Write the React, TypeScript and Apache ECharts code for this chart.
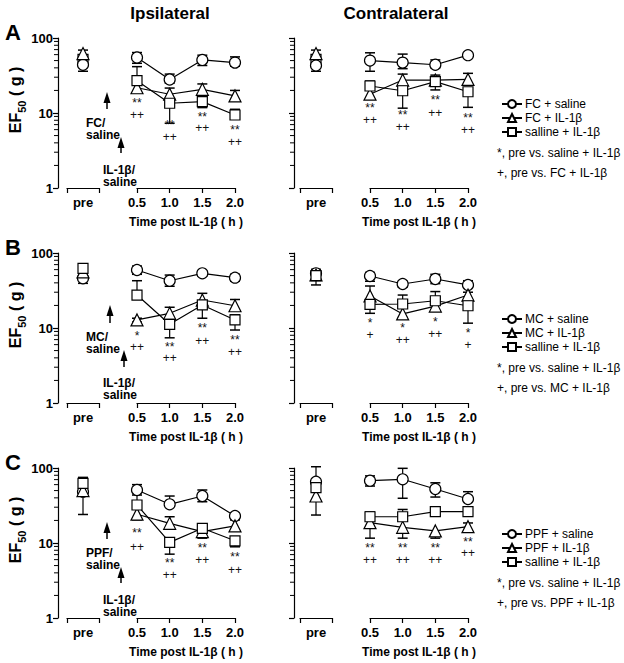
import React, { useEffect, useRef } from 'react';
import * as echarts from 'echarts';

const FONT = '"Liberation Sans", Arial, Helvetica, sans-serif';

const PRE_LABEL = ['pre'];
const TIMES = [0.5, 1.0, 1.5, 2.0];
const MINOR_TICKS = [2, 3, 4, 5, 6, 7, 8, 9, 20, 30, 40, 50, 60, 70, 80, 90];
const X_TITLE = 'Time post IL-1β ( h )';
const Y_TITLE = '{a|EF}{b|50}{a| ( g )}';
const HEADERS = ['Ipsilateral', 'Contralateral'];
const PANEL_LETTERS = ['A', 'B', 'C'];

// Each row: [mean, lower end of error bar, upper end of error bar]
// order: pre, 0.5 h, 1.0 h, 1.5 h, 2.0 h
const A_IPSI_SAL = [[44, 36, 44], [55, 46, 64], [28, 25, 33], [51, 43, 59], [47, 42, 56]];
const A_IPSI_DRUG = [[62, 62, 69], [21.7, 18.6, 21.7], [17.8, 17.8, 21.5], [20.7, 20.7, 24.4], [16.9, 14.5, 20]];
const A_IPSI_IL = [[52, 52, 52], [27, 27, 41.5], [13.5, 7.3, 13.5], [14.2, 11.8, 14.2], [9.4, 8.5, 11.2]];

const A_CON_SAL = [[43, 36, 43], [50, 36, 63.5], [47, 39, 61], [44, 40, 51], [59, 55, 63]];
const A_CON_DRUG = [[62, 62, 69], [17.8, 17.8, 17.8], [27.5, 27.5, 33], [27.5, 27.5, 27.5], [28, 28, 33.8]];
const A_CON_IL = [[52, 52, 52], [22.9, 22.9, 26.7], [19.8, 11.6, 19.8], [26.2, 20.3, 32], [19.2, 11.9, 19.2]];

const B_IPSI_SAL = [[46, 39.4, 46], [59.3, 52, 67], [42.7, 36, 50.8], [53.6, 49, 58], [46.9, 42, 52]];
const B_IPSI_DRUG = [[56, 56, 56], [12.8, 12, 13.5], [15.7, 15.7, 18.9], [23.6, 23.6, 29], [19.8, 19.8, 24]];
const B_IPSI_IL = [[62.5, 62.5, 70.6], [27.5, 27.5, 42.7], [11.2, 7.4, 11.2], [20.3, 13.5, 20.3], [12.8, 9.4, 15]];

const B_CON_SAL = [[53.6, 53.6, 60.6], [49.3, 42, 55], [38.6, 35, 42], [45, 39, 52], [37.5, 37.5, 42.7]];
const B_CON_DRUG = [[50.9, 37.5, 50.9], [26.7, 26.7, 36.3], [15.4, 13.8, 15.4], [19.6, 17, 19.6], [27.5, 27.5, 30]];
const B_CON_IL = [[50, 50, 50], [20.7, 15.7, 20.7], [20.9, 20.9, 27.5], [23.1, 23.1, 30.6], [19.8, 11.6, 19.8]];

const C_IPSI_SAL = [[48.3, 24, 48.3], [50.9, 50.9, 60], [32.8, 32.8, 42.3], [42.3, 35.5, 50.9], [22.9, 21, 25]];
const C_IPSI_DRUG = [[50, 50, 50], [24.2, 20.3, 24.2], [18.3, 18.3, 22.4], [14.2, 11.6, 14.2], [16.9, 16.9, 20.3]];
const C_IPSI_IL = [[62.5, 62.5, 75], [32.1, 32.1, 43.6], [10.2, 7.1, 10.2], [15.7, 15.7, 17.4], [10.7, 8.9, 10.7]];

const C_CON_SAL = [[65.7, 65.7, 104], [67.7, 57.5, 78.5], [70.7, 39.5, 99], [52.5, 41, 63.5], [38.6, 38.6, 48.3]];
const C_CON_DRUG = [[42.3, 23.6, 42.3], [18.7, 11.6, 18.7], [16.2, 11.6, 16.2], [14.5, 11.6, 14.5], [16.5, 14.5, 18.5]];
const C_CON_IL = [[54.7, 54.7, 54.7], [22.4, 22.4, 26.1], [22.4, 22.4, 28], [26.2, 23, 28], [26.2, 26.2, 30.4]];

// significance marks: [time, value position, text]
const A_IPSI_MARKS = [[0.5, 13.6, '**'], [0.5, 9.4, '++'], [1.0, 6.9, '**'], [1.0, 4.8, '++'], [1.5, 8.8, '**'], [1.5, 6.3, '++'], [2.0, 5.9, '**'], [2.0, 4.1, '++']];
const A_CON_MARKS = [[0.5, 11.7, '**'], [0.5, 8.1, '++'], [1.0, 9.4, '**'], [1.0, 6.5, '++'], [1.5, 14.9, '**'], [1.5, 10, '++'], [2.0, 8.6, '**'], [2.0, 5.9, '++']];
const B_IPSI_MARKS = [[0.5, 7.8, '*'], [0.5, 5.6, '++'], [1.0, 5.6, '**'], [1.0, 4.0, '++'], [1.5, 10, '**'], [1.5, 6.7, '++'], [2.0, 6.9, '**'], [2.0, 4.8, '++']];
const B_CON_MARKS = [[0.5, 11.7, '*'], [0.5, 8.1, '+'], [1.0, 10, '*'], [1.0, 6.9, '++'], [1.5, 12, '*'], [1.5, 8.3, '++'], [2.0, 8.6, '*'], [2.0, 5.9, '+']];
const C_IPSI_MARKS = [[0.5, 13.6, '**'], [0.5, 8.8, '++'], [1.0, 5.4, '**'], [1.0, 3.7, '++'], [1.5, 8.6, '**'], [1.5, 5.9, '++'], [2.0, 6.5, '**'], [2.0, 4.4, '++']];
const C_CON_MARKS = [[0.5, 8.6, '**'], [0.5, 5.9, '++'], [1.0, 8.6, '**'], [1.0, 5.9, '++'], [1.5, 8.6, '**'], [1.5, 5.9, '++'], [2.0, 10.3, '**'], [2.0, 7.4, '++']];

const ROW_NAMES = [
  ['FC + saline', 'FC + IL-1β', 'salline + IL-1β'],
  ['MC + saline', 'MC + IL-1β', 'salline + IL-1β'],
  ['PPF + saline', 'PPF + IL-1β', 'salline + IL-1β'],
];
const NOTES = [
  ['*, pre vs. saline + IL-1β', '+, pre vs. FC + IL-1β'],
  ['*, pre vs. saline + IL-1β', '+, pre vs. MC + IL-1β'],
  ['*, pre vs. saline + IL-1β', '+, pre vs. PPF + IL-1β'],
];
const DRUG_LABELS = ['FC/\nsaline', 'MC/\nsaline', 'PPF/\nsaline'];
const IL_LABEL = 'IL-1β/\nsaline';

const PANEL_DATA = [
  [A_IPSI_SAL, A_IPSI_DRUG, A_IPSI_IL],
  [A_CON_SAL, A_CON_DRUG, A_CON_IL],
  [B_IPSI_SAL, B_IPSI_DRUG, B_IPSI_IL],
  [B_CON_SAL, B_CON_DRUG, B_CON_IL],
  [C_IPSI_SAL, C_IPSI_DRUG, C_IPSI_IL],
  [C_CON_SAL, C_CON_DRUG, C_CON_IL],
];
const PANEL_MARKS = [A_IPSI_MARKS, A_CON_MARKS, B_IPSI_MARKS, B_CON_MARKS, C_IPSI_MARKS, C_CON_MARKS];

// layout
const SIDES = [
  { axisX: 58, preLeft: 67, timeLeft: 137, labels: true },
  { axisX: 294, preLeft: 300, timeLeft: 370, labels: false },
];
const PRE_W = 32;
const TIME_W = 98;
const GRID_H = 150;
const ROW_TOP = [38, 253, 468];
const ROW_SHIFT = [0, 215, 430];
const SYMBOLS: [string, number][] = [['circle', 11], ['triangle', 12], ['rect', 10]];

const BLACK = '#000';
const LINE_W = 1.2;

function errRender(params: any, api: any) {
  const x = api.value(0);
  const m = api.value(1);
  const lo = api.value(2);
  const hi = api.value(3);
  const pm = api.coord([x, m]);
  const children: any[] = [];
  [lo, hi].forEach((v: number) => {
    if (Math.abs(v - m) < 1e-9) return;
    const p = api.coord([x, v]);
    children.push({ type: 'line', shape: { x1: pm[0], y1: pm[1], x2: p[0], y2: p[1] }, style: { stroke: BLACK, lineWidth: LINE_W } });
    children.push({ type: 'line', shape: { x1: p[0] - 5, y1: p[1], x2: p[0] + 5, y2: p[1] }, style: { stroke: BLACK, lineWidth: 1.5 } });
  });
  return { type: 'group', children };
}

function buildOption() {
  const grid: any[] = [];
  const xAxis: any[] = [];
  const yAxis: any[] = [];
  const series: any[] = [];
  const legend: any[] = [];
  const graphic: any[] = [];

  for (let p = 0; p < 6; p++) {
    const r = p >> 1;
    const side = SIDES[p & 1];
    const top = ROW_TOP[r];
    const gPre = 2 * p;
    const gTime = 2 * p + 1;
    grid.push({ left: side.preLeft, top, width: PRE_W, height: GRID_H });
    grid.push({ left: side.timeLeft, top, width: TIME_W, height: GRID_H });

    const axisLabelStyle = { color: BLACK, fontWeight: 'bold', fontSize: 13, fontFamily: FONT };
    xAxis.push({
      gridIndex: gPre, type: 'category', data: PRE_LABEL, boundaryGap: true,
      axisLine: { onZero: false, lineStyle: { color: BLACK, width: LINE_W } },
      axisTick: { show: true, length: 5, alignWithLabel: false, lineStyle: { color: BLACK, width: LINE_W } },
      axisLabel: { ...axisLabelStyle, margin: 8 },
    });
    xAxis.push({
      gridIndex: gTime, type: 'value', min: 0.5, max: 2, interval: 0.5,
      axisLine: { show: true, onZero: false, lineStyle: { color: BLACK, width: LINE_W } },
      axisTick: { show: true, length: 5, lineStyle: { color: BLACK, width: LINE_W } },
      axisLabel: { ...axisLabelStyle, margin: 8, formatter: (v: number) => v.toFixed(1) },
      splitLine: { show: false },
      name: X_TITLE, nameLocation: 'middle', nameGap: 28,
      nameTextStyle: { color: BLACK, fontWeight: 'bold', fontSize: 12, fontFamily: FONT },
    });
    yAxis.push({
      gridIndex: gPre, type: 'log', logBase: 10, min: 1, max: 100,
      offset: side.preLeft - side.axisX,
      axisLine: { show: true, onZero: false, lineStyle: { color: BLACK, width: LINE_W } },
      axisTick: { show: true, length: 5, lineStyle: { color: BLACK, width: LINE_W } },
      axisLabel: { show: side.labels, ...axisLabelStyle, margin: 5 },
      splitLine: { show: false },
      name: side.labels ? Y_TITLE : '',
      nameLocation: 'middle', nameGap: 28,
      nameTextStyle: {
        padding: [0, 0, 0, 26],
        rich: {
          a: { fontSize: 16, fontWeight: 'bold', fontFamily: FONT, color: BLACK, lineHeight: 24, verticalAlign: 'middle' },
          b: { fontSize: 11, fontWeight: 'bold', fontFamily: FONT, color: BLACK, lineHeight: 11, verticalAlign: 'bottom' },
        },
      },
    });
    yAxis.push({ gridIndex: gTime, type: 'log', logBase: 10, min: 1, max: 100, show: false });

    const data = PANEL_DATA[p];
    const names = ROW_NAMES[r];
    const errTime: any[] = [];
    const errPre: any[] = [];
    data.forEach((rows, k) => {
      const [sym, size] = SYMBOLS[k];
      const common = {
        name: names[k], symbol: sym, symbolSize: size,
        itemStyle: { color: '#fff', borderColor: BLACK, borderWidth: LINE_W, opacity: 1 },
        silent: true,
      };
      series.push({
        ...common, type: 'line', z: 3,
        xAxisIndex: gTime, yAxisIndex: gTime,
        data: TIMES.map((t, i) => [t, rows[i + 1][0]]),
        lineStyle: { color: BLACK, width: LINE_W },
        showAllSymbol: true,
      });
      series.push({
        ...common, type: 'scatter', z: r === 0 && k === 2 ? 3 : 4,
        xAxisIndex: gPre, yAxisIndex: gPre,
        data: [[0, rows[0][0]]],
      });
      TIMES.forEach((t, i) => errTime.push([t, rows[i + 1][0], rows[i + 1][1], rows[i + 1][2]]));
      errPre.push([0, rows[0][0], rows[0][1], rows[0][2]]);
    });
    series.push({ type: 'custom', xAxisIndex: gTime, yAxisIndex: gTime, data: errTime, renderItem: errRender, clip: false, z: 2, silent: true });
    series.push({ type: 'custom', xAxisIndex: gPre, yAxisIndex: gPre, data: errPre, renderItem: errRender, clip: false, z: 2, silent: true });

    const off = side.preLeft - side.axisX;
    series.push({
      type: 'custom', xAxisIndex: gPre, yAxisIndex: gPre,
      data: MINOR_TICKS.map((v) => [0, v]), clip: false, silent: true, z: 2,
      renderItem: (params: any, api: any) => {
        const pt = api.coord([0, api.value(1)]);
        const x0 = params.coordSys.x - off;
        return { type: 'line', shape: { x1: x0 - 4, y1: pt[1], x2: x0, y2: pt[1] }, style: { stroke: BLACK, lineWidth: 1 } };
      },
    });

    series.push({
      type: 'scatter', xAxisIndex: gTime, yAxisIndex: gTime,
      data: PANEL_MARKS[p], symbolSize: 1, silent: true, z: 5,
      itemStyle: { color: 'rgba(0,0,0,0)', opacity: 1 },
      label: {
        show: true, position: 'inside', color: '#111', fontSize: 12, fontFamily: FONT,
        textBorderWidth: 0, textBorderColor: 'transparent', lineHeight: 9,
        formatter: (q: any) => q.data[2],
      },
    });
  }

  for (let r = 0; r < 3; r++) {
    const dy = ROW_SHIFT[r];
    legend.push({
      orient: 'vertical', left: 496, top: 93 + dy, itemWidth: 20, itemHeight: 10, itemGap: 2,
      data: ROW_NAMES[r], selectedMode: false,
      textStyle: { color: BLACK, fontSize: 12, fontFamily: FONT, lineHeight: 12, padding: [0, 0, 0, -2] },
    });
    graphic.push({ type: 'text', x: 497, y: 153 + dy, style: { text: NOTES[r][0], fill: BLACK, font: `12px ${FONT}`, textAlign: 'left', textVerticalAlign: 'middle' } });
    graphic.push({ type: 'text', x: 497, y: 173 + dy, style: { text: NOTES[r][1], fill: BLACK, font: `12px ${FONT}`, textAlign: 'left', textVerticalAlign: 'middle' } });
    graphic.push({ type: 'text', x: 13, y: 32 + dy, style: { text: PANEL_LETTERS[r], fill: BLACK, font: `bold 22px ${FONT}`, textAlign: 'center', textVerticalAlign: 'middle' } });

    const a1 = r === 1 ? { x: 110, tip: 305, base: 323 } : { x: 107, tip: 92 + dy, base: 109 + dy };
    const a2 = r === 1 ? { x: 124, tip: 350, base: 367 } : { x: 121, tip: 137 + dy, base: 153 + dy };
    [a1, a2].forEach((a) => {
      graphic.push({ type: 'line', shape: { x1: a.x, y1: a.tip + 8, x2: a.x, y2: a.base }, style: { stroke: BLACK, lineWidth: 1.5 } });
      graphic.push({ type: 'polygon', shape: { points: [[a.x, a.tip], [a.x - 3.5, a.tip + 11], [a.x + 3.5, a.tip + 11]] }, style: { fill: BLACK } });
    });
    const lblTop1 = r === 1 ? 331 : 117 + dy;
    const lblTop2 = r === 1 ? 377 : 164 + dy;
    graphic.push({ type: 'text', x: 86, y: lblTop1, style: { text: DRUG_LABELS[r], fill: BLACK, font: `bold 12px ${FONT}`, lineHeight: 12, textAlign: 'left', textVerticalAlign: 'top' } });
    graphic.push({ type: 'text', x: 103, y: lblTop2, style: { text: IL_LABEL, fill: BLACK, font: `bold 12px ${FONT}`, lineHeight: 12, textAlign: 'left', textVerticalAlign: 'top' } });
  }
  graphic.push({ type: 'text', x: 170, y: 13, style: { text: HEADERS[0], fill: BLACK, font: `bold 17px ${FONT}`, textAlign: 'center', textVerticalAlign: 'middle' } });
  graphic.push({ type: 'text', x: 396, y: 13, style: { text: HEADERS[1], fill: BLACK, font: `bold 17px ${FONT}`, textAlign: 'center', textVerticalAlign: 'middle' } });

  return {
    animation: false,
    backgroundColor: '#fff',
    textStyle: { fontFamily: FONT },
    grid, xAxis, yAxis, series, legend, graphic,
  };
}

export default function App() {
  const ref = useRef<HTMLDivElement>(null);
  useEffect(() => {
    if (!ref.current) return;
    const chart = echarts.init(ref.current, null, { renderer: 'svg' });
    chart.setOption(buildOption() as any);
    return () => chart.dispose();
  }, []);
  return <div ref={ref} style={{ position: 'absolute', left: 0, top: 0, width: 624, height: 663 }} />;
}
